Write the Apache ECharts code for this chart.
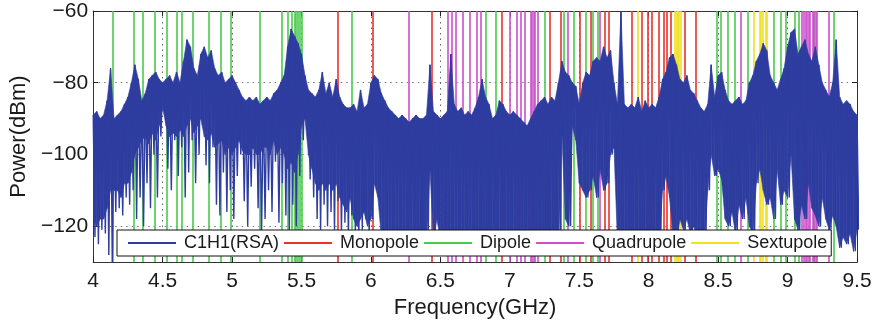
<!DOCTYPE html>
<html><head><meta charset="utf-8">
<script src="https://cdn.jsdelivr.net/npm/echarts@6/dist/echarts.min.js"></script>
<style>html,body{margin:0;padding:0;background:#fff}#c{width:877px;height:324px}</style>
</head><body><div id="c"></div>
<script>
// Spectrum sampled every 0.025 GHz from 4.0 GHz: upper (peak) and lower (floor) envelope, dBm
const freqStart = 4.0;
const freqStep = 0.025;
const peakDbm = [
 -89,-88,-90,-89,-85,-76,-90,-89,-88,-86,
 -84,-80,-75,-79,-85,-83,-79,-78,-77,-79,
 -80,-79,-78,-80,-77,-80,-74,-68,-70,-76,
 -78,-72,-70,-73,-71,-76,-78,-77,-80,-79,
 -78,-80,-82,-84,-85,-84,-85,-84,-86,-85,
 -84,-85,-83,-82,-80,-78,-70,-65,-67,-69,
 -72,-78,-82,-83,-84,-82,-77,-83,-80,-84,
 -79,-84,-86,-87,-87,-86,-88,-82,-87,-86,
 -80,-78,-79,-83,-85,-87,-88,-89,-90,-89,
 -90,-91,-90,-89,-90,-90,-89,-75,-88,-89,
 -90,-89,-88,-72,-86,-88,-87,-89,-88,-89,
 -87,-84,-79,-84,-86,-90,-89,-85,-86,-88,
 -89,-88,-89,-90,-91,-92,-90,-88,-86,-85,
 -84,-86,-84,-85,-80,-74,-77,-78,-80,-81,
 -86,-80,-77,-78,-74,-73,-74,-70,-73,-71,
 -80,-86,-60,-86,-87,-86,-87,-84,-88,-85,
 -87,-86,-87,-84,-79,-77,-73,-72,-75,-79,
 -80,-78,-82,-83,-85,-87,-88,-86,-75,-84,
 -78,-77,-82,-85,-86,-85,-84,-86,-85,-80,
 -78,-74,-72,-69,-71,-78,-80,-82,-79,-76,
 -70,-66,-65,-72,-70,-68,-72,-74,-70,-75,
 -80,-82,-84,-80,-68,-84,-86,-85,-86,-88,-89
];
const floorDbm = [
 -123,-125,-121,-122,-128,-131,-116,-115,-117,-112,
 -114,-110,-118,-112,-120,-108,-115,-100,-112,-95,
 -87,-104,-110,-96,-106,-98,-112,-105,-96,-108,
 -100,-92,-103,-108,-98,-114,-117,-105,-116,-110,
 -118,-106,-100,-113,-120,-109,-104,-115,-122,-118,
 -110,-116,-102,-119,-108,-117,-121,-114,-120,-106,
 -96,-92,-107,-112,-118,-121,-114,-120,-116,-121,
 -113,-122,-119,-123,-117,-122,-124,-121,-118,-123,
 -118,-108,-112,-123,-124,-124,-125,-124,-124,-125,
 -124,-124,-125,-124,-124,-125,-124,-104,-124,-118,
 -124,-125,-124,-124,-125,-124,-124,-125,-124,-124,
 -125,-124,-124,-125,-124,-124,-125,-124,-124,-125,
 -124,-124,-125,-124,-124,-125,-124,-124,-125,-124,
 -124,-124,-122,-124,-123,-94,-118,-120,-92,-96,
 -108,-110,-112,-110,-106,-112,-104,-110,-108,-100,
 -98,-124,-124,-124,-125,-124,-124,-124,-124,-125,
 -124,-124,-124,-124,-110,-106,-112,-122,-124,-118,
 -121,-118,-122,-120,-124,-124,-124,-110,-100,-106,
 -104,-107,-118,-120,-116,-122,-114,-118,-112,-120,
 -122,-108,-104,-110,-114,-112,-118,-104,-114,-110,
 -112,-100,-118,-121,-114,-118,-108,-115,-117,-120,
 -112,-118,-121,-117,-120,-126,-123,-125,-122,-127,-121
];
// Lower edge of the solid core of the trace for 4.0–5.975 GHz (above 6 GHz the core reaches the floor)
const coreDbm = [
 -118,-120,-118,-118,-115,-110,-110,-110,-112,-108,
 -108,-105,-100,-98,-96,-95,-97,-94,-96,-92,
 -87,-92,-95,-94,-95,-93,-95,-92,-90,-94,
 -92,-90,-95,-96,-94,-98,-97,-96,-100,-98,
 -100,-98,-96,-99,-100,-100,-98,-100,-100,-98,
 -98,-100,-96,-100,-98,-100,-104,-102,-105,-100,
 -92,-90,-100,-104,-108,-110,-108,-110,-108,-110,
 -108,-112,-114,-116,-112,-118,-120,-118,-116,-120
];
// Resonance frequencies (GHz)
const monopoleGHz = [5.765, 6.009, 6.437, 6.938, 7.288, 7.372, 7.496, 7.580, 7.676, 7.712, 7.880, 7.952, 7.988, 8.024, 8.071, 8.107, 8.132, 8.160, 8.263, 8.335];
const dipoleGHz = [4.144, 4.291, 4.356, 4.442, 4.532, 4.597, 4.638, 4.721, 4.829, 4.924, 4.987, 5.201, 5.357, 5.400, 5.431, 5.445, 5.459, 5.474, 5.488, 5.502, 5.860, 6.825, 6.902, 7.252, 7.388, 7.465, 7.551, 7.604, 7.633, 8.491, 8.520, 8.574, 8.623, 8.710, 8.905, 8.945, 8.994, 9.054, 9.076, 9.185, 9.329];
const quadrupoleGHz = [6.270, 6.553, 6.577, 6.614, 6.656, 6.705, 6.758, 6.790, 7.003, 7.046, 7.084, 7.113, 7.149, 7.161, 7.173, 7.185, 7.197, 7.417, 7.652, 8.664, 9.104, 9.116, 9.128, 9.140, 9.152, 9.164, 9.176, 9.188, 9.200, 9.210, 9.298];
const sextupoleGHz = [7.916, 8.186, 8.198, 8.210, 8.222, 8.234, 8.759, 8.800, 8.812, 8.824, 8.836, 8.848];

const xTicks = [4, 4.5, 5, 5.5, 6, 6.5, 7, 7.5, 8, 8.5, 9, 9.5];
const yTicks = [-120, -100, -80, -60];
const seriesNames = ['C1H1(RSA)', 'Monopole', 'Dipole', 'Quadrupole', 'Sextupole'];
const colors = ['#2e3d9f', '#e8322b', '#4cc94c', '#cc4fcc', '#f0e01e'];

const FONT = 'Liberation Sans, Arial, sans-serif';
const TXT = '#1a1a1a';

const freqs = peakDbm.map((_, i) => freqStart + i * freqStep);
const coreAt = i => (i < coreDbm.length ? coreDbm[i] : floorDbm[i]);
// zig-zag trace alternating between peak and floor of each sample
const spectrum = [];
freqs.forEach((f, i) => {
  spectrum.push([f, peakDbm[i]]);
  spectrum.push([f + freqStep / 2, floorDbm[i]]);
});
// filled solid core between consecutive samples
const envelope = [];
for (let i = 0; i < freqs.length - 1; i++) {
  envelope.push([freqs[i], peakDbm[i], coreAt(i), freqs[i + 1], peakDbm[i + 1], coreAt(i + 1)]);
}

function vlines(arr, color) {
  return {
    silent: true, symbol: 'none', z: 1, animation: false,
    label: { show: false }, emphasis: { disabled: true },
    lineStyle: { type: 'solid', width: 1.6, color: color, opacity: 1 },
    data: arr.map(f => ({ xAxis: f }))
  };
}

const fmtY = v => (v < 0 ? '\u2212' : '') + Math.abs(v);

const chart = echarts.init(document.getElementById('c'), null, { renderer: 'canvas' });
chart.setOption({
  animation: false,
  backgroundColor: '#fff',
  grid: { left: 92, right: 20, top: 11, bottom: 61, containLabel: false },
  legend: {
    data: seriesNames.map(n => ({ name: n, icon: 'rect' })),
    left: 117, top: 230, orient: 'horizontal',
    itemWidth: 48, itemHeight: 2, itemGap: 5,
    padding: [4, 4, 4, 11],
    backgroundColor: '#fff', borderColor: '#111', borderWidth: 1,
    selectedMode: false, z: 20,
    textStyle: { fontSize: 18, color: TXT, fontFamily: FONT, padding: [0, 0, 0, 3] }
  },
  xAxis: [{
    type: 'value', min: 4, max: 9.5, position: 'bottom',
    axisLine: { show: true, lineStyle: { color: '#333', width: 1 } },
    axisTick: { show: true, inside: true, length: 5, customValues: xTicks, lineStyle: { color: '#222' } },
    axisLabel: { customValues: xTicks, fontSize: 21, color: TXT, fontFamily: FONT, margin: 9, formatter: v => String(v) },
    splitLine: { show: true, lineStyle: { type: [1.5, 4], color: '#666', width: 1 } },
    name: 'Frequency(GHz)', nameLocation: 'middle', nameGap: 31,
    nameTextStyle: { fontSize: 22, color: TXT, fontFamily: FONT }
  }, {
    type: 'value', min: 4, max: 9.5, position: 'top',
    axisLine: { show: true, lineStyle: { color: '#333', width: 1 } },
    axisTick: { show: true, inside: true, length: 5, customValues: xTicks, lineStyle: { color: '#222' } },
    axisLabel: { show: false }, splitLine: { show: false }
  }],
  yAxis: [{
    type: 'value', min: -130, max: -60, position: 'left',
    axisLine: { show: true, lineStyle: { color: '#333', width: 1 } },
    axisTick: { show: true, inside: true, length: 5, customValues: yTicks, lineStyle: { color: '#222' } },
    axisLabel: { customValues: yTicks, fontSize: 21, color: TXT, fontFamily: FONT, margin: 5, formatter: fmtY },
    splitLine: { show: true, lineStyle: { type: [1.5, 4], color: '#777', width: 1 } },
    name: 'Power(dBm)', nameLocation: 'middle', nameGap: 58, nameRotate: 90,
    nameTextStyle: { fontSize: 22, color: TXT, fontFamily: FONT }
  }, {
    type: 'value', min: -130, max: -60, position: 'right',
    axisLine: { show: true, lineStyle: { color: '#333', width: 1 } },
    axisTick: { show: true, inside: true, length: 5, customValues: yTicks, lineStyle: { color: '#222' } },
    axisLabel: { show: false }, splitLine: { show: false }
  }],
  series: [
    { name: 'envelope', type: 'custom', data: envelope, xAxisIndex: 0, yAxisIndex: 0,
      silent: true, z: 2, clip: true,
      encode: { x: [0, 3], y: [1, 2, 4, 5] },
      renderItem: function (params, api) {
        const a = api.coord([api.value(0), api.value(1)]);
        const b = api.coord([api.value(3), api.value(4)]);
        const c = api.coord([api.value(3), api.value(5)]);
        const d = api.coord([api.value(0), api.value(2)]);
        const cs = params.coordSys;
        const shape = echarts.graphic.clipPointsByRect([a, b, c, d], { x: cs.x, y: cs.y, width: cs.width, height: cs.height });
        return { type: 'polygon', shape: { points: shape }, style: { fill: colors[0], stroke: colors[0], lineWidth: 0.6 } };
      } },
    { name: seriesNames[0], type: 'line', data: spectrum, xAxisIndex: 0, yAxisIndex: 0,
      showSymbol: false, symbol: 'none', clip: true, silent: true, z: 3, sampling: null,
      lineStyle: { width: 1.4, color: colors[0] }, itemStyle: { color: colors[0] } },
    { name: seriesNames[1], type: 'line', data: [], symbol: 'none', z: 1, itemStyle: { color: colors[1] }, lineStyle: { color: colors[1] }, markLine: vlines(monopoleGHz, colors[1]) },
    { name: seriesNames[2], type: 'line', data: [], symbol: 'none', z: 1, itemStyle: { color: colors[2] }, lineStyle: { color: colors[2] }, markLine: vlines(dipoleGHz, colors[2]) },
    { name: seriesNames[3], type: 'line', data: [], symbol: 'none', z: 1, itemStyle: { color: colors[3] }, lineStyle: { color: colors[3] }, markLine: vlines(quadrupoleGHz, colors[3]) },
    { name: seriesNames[4], type: 'line', data: [], symbol: 'none', z: 1, itemStyle: { color: colors[4] }, lineStyle: { color: colors[4] }, markLine: vlines(sextupoleGHz, colors[4]) }
  ]
});
</script>
</body></html>
